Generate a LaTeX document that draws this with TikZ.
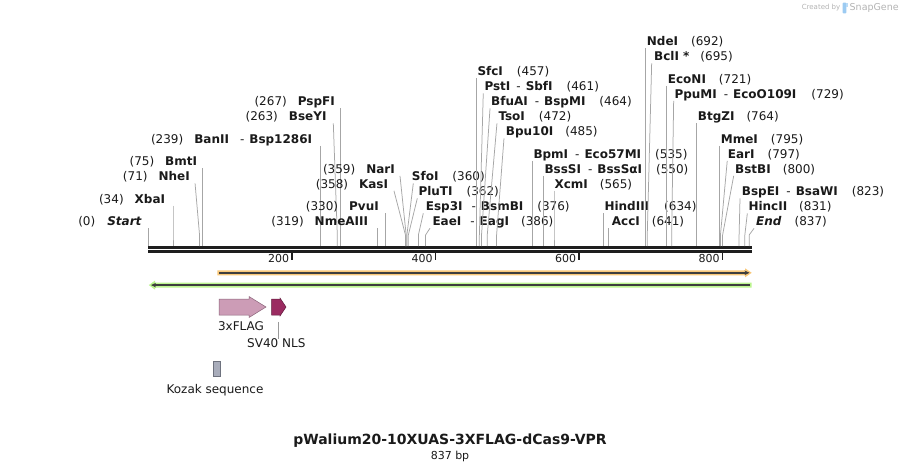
\documentclass[tikz,border=0pt]{standalone}
\usepackage{fontspec}
\setmainfont{DejaVu Sans}
\usetikzlibrary{arrows.meta}
\definecolor{txt}{HTML}{1A1A1A}
\definecolor{connc}{HTML}{A6A6A6}
\definecolor{bbone}{HTML}{1E1E1E}
\definecolor{orfor}{HTML}{F9C879}
\definecolor{orfgr}{HTML}{BCF58F}
\definecolor{orfline}{HTML}{3E3E3E}
\definecolor{flagf}{HTML}{CC9CB6}
\definecolor{flagd}{HTML}{8A6479}
\definecolor{nlsf}{HTML}{9B2B61}
\definecolor{nlsd}{HTML}{5E1A3B}
\definecolor{kozf}{HTML}{A9ADBB}
\definecolor{kozd}{HTML}{6E727E}
\definecolor{wmark}{HTML}{B4B4B4}
\definecolor{wblue}{HTML}{9CCBF2}
\tikzset{
  enz/.style={font=\fontsize{12}{13}\selectfont, inner sep=0pt, text=txt},
  conn/.style={draw=connc, line width=0.75pt},
  bbline/.style={draw=bbone, line width=2.6pt},
  tickline/.style={draw=bbone, line width=1.6pt},
  ticklab/.style={font=\fontsize{11}{13}\selectfont, inner sep=0pt, text=txt},
  featlab/.style={font=\fontsize{12}{14}\selectfont, inner sep=0pt, text=txt},
}
\newcommand\enzL[6]{%
  \node[enz, anchor=base east] (#1) at (#3, {225.7-7.5*#2}) {#6};
  \coordinate (#1t) at ({148.6+0.7175*#5+#4}, {228.3-7.5*#2});
  \coordinate (#1b) at ({148.6+0.7175*#5}, 235);
  \coordinate (#1s) at ({148.6+0.7175*#5}, 246);
  \draw[conn] (#1t) -- (#1b) -- (#1s);
}
\newcommand\enzR[6]{%
  \node[enz, anchor=base west] (#1) at (#3, {225.7-7.5*#2}) {#6};
  \coordinate (#1t) at ({148.6+0.7175*#5+#4}, {228.3-7.5*#2});
  \coordinate (#1b) at ({148.6+0.7175*#5}, 235);
  \coordinate (#1s) at ({148.6+0.7175*#5}, 246);
  \draw[conn] (#1t) -- (#1b) -- (#1s);
}
\begin{document}
\begin{tikzpicture}[x=1pt,y=-1pt]
\useasboundingbox (0,0) rectangle (900,472);
\fill[white] (0,0) rectangle (900,472);

% watermark
\node[inner sep=0pt, anchor=east, text=wmark, font=\fontsize{7}{8}\selectfont] (wm1) at (840.5,8) {Created by};
\fill[wblue, rounded corners=1pt] (842.6,2.6) rectangle (846.4,13.4);
\fill[wblue!70] (846.4,2.6) rectangle (848.2,7);
\node[inner sep=0pt, anchor=west, text=wmark, font=\fontsize{9.5}{11}\selectfont] (wm2) at (849.5,7.5) {SnapGene};

% backbone
\coordinate (bb1) at (148.3,247.3);
\coordinate (bb2) at (751.7,247.3);
\coordinate (bb3) at (148.3,251.4);
\coordinate (bb4) at (751.7,251.4);
\draw[bbline] (bb1) -- (bb2);
\draw[bbline] (bb3) -- (bb4);

% ticks
\foreach \v in {200,400,600,800}{
  \coordinate (tk\v a) at ({148.6+0.7175*\v},251.5);
  \coordinate (tk\v b) at ({148.6+0.7175*\v},259.5);
  \draw[tickline] (tk\v a) -- (tk\v b);
  \node[ticklab, anchor=east] (tl\v) at ({145.8+0.7175*\v},258.8) {\v};
}

% enzymes, left-hand labels
\enzL{st}{0}{142}{0}{0}{(0)\hspace{12pt}\textbf{\textit{Start}}}
\enzL{xba}{3}{165.3}{0}{34}{(34)\hspace{11pt}\textbf{XbaI}}
\enzL{nhe}{6}{190}{-4.5}{71}{(71)\hspace{11pt}\textbf{NheI}}
\enzL{bmt}{8}{197.3}{0}{75}{(75)\hspace{11pt}\textbf{BmtI}}
\enzL{ban}{11}{312.3}{0}{239}{(239)\hspace{11pt}\textbf{BanII}\hspace{11pt}-\hspace{5pt}\textbf{Bsp1286I}}
\enzL{bse}{14}{326.7}{-4}{263}{(263)\hspace{11pt}\textbf{BseYI}}
\enzL{psp}{16}{335}{0}{267}{(267)\hspace{11pt}\textbf{PspFI}}
\enzL{nme}{0}{368.3}{0}{319}{(319)\hspace{11pt}\textbf{NmeAIII}}
\enzL{pvu}{2}{379}{0}{330}{(330)\hspace{11pt}\textbf{PvuI}}
\enzL{kas}{5}{388.3}{-11.5}{358}{(358)\hspace{11pt}\textbf{KasI}}
\enzL{nar}{7}{395}{-6.2}{359}{(359)\hspace{11pt}\textbf{NarI}}

% enzymes, right-hand labels
\enzR{sfo}{6}{411.7}{6.4}{360}{\textbf{SfoI}\hspace{14pt}(360)}
\enzR{plu}{4}{418.3}{9}{362}{\textbf{PluTI}\hspace{14pt}(362)}
\enzR{esp}{2}{425.7}{4.9}{376}{\textbf{Esp3I}\hspace{9pt}-\hspace{5pt}\textbf{BsmBI}\hspace{14pt}(376)}
\enzR{eae}{0}{432.3}{4.4}{386}{\textbf{EaeI}\hspace{9pt}-\hspace{5pt}\textbf{EagI}\hspace{12pt}(386)}
\enzR{sfc}{20}{477.3}{0}{457}{\textbf{SfcI}\hspace{14pt}(457)}
\enzR{pst}{18}{484.3}{3.9}{461}{\textbf{PstI}\hspace{6pt}-\hspace{5pt}\textbf{SbfI}\hspace{14pt}(461)}
\enzR{bfu}{16}{491}{8.5}{464}{\textbf{BfuAI}\hspace{7pt}-\hspace{5pt}\textbf{BspMI}\hspace{14pt}(464)}
\enzR{tso}{14}{498.3}{9.7}{472}{\textbf{TsoI}\hspace{14pt}(472)}
\enzR{bpu}{12}{505.7}{7.4}{485}{\textbf{Bpu10I}\hspace{12pt}(485)}
\enzR{bpm}{9}{533.3}{0}{535}{\textbf{BpmI}\hspace{7pt}-\hspace{5pt}\textbf{Eco57MI}\hspace{14pt}(535)}
\enzR{bss}{7}{544.3}{0}{550}{\textbf{BssSI}\hspace{7pt}-\hspace{5pt}\textbf{BssSαI}\hspace{14pt}(550)}
\enzR{xcm}{5}{554.3}{0}{565}{\textbf{XcmI}\hspace{12pt}(565)}
\enzR{hin}{2}{604.3}{0}{634}{\textbf{HindIII}\hspace{15pt}(634)}
\enzR{acc}{0}{611.7}{0}{641}{\textbf{AccI}\hspace{12pt}(641)}
\enzR{nde}{24}{646.7}{0}{692}{\textbf{NdeI}\hspace{13pt}(692)}
\enzR{bcl}{22}{654}{4.4}{695}{\textbf{BclI *}\hspace{11pt}(695)}
\enzR{ecn}{19}{667.7}{0}{721}{\textbf{EcoNI}\hspace{13pt}(721)}
\enzR{ppu}{17}{674.3}{2}{729}{\textbf{PpuMI}\hspace{7pt}-\hspace{5pt}\textbf{EcoO109I}\hspace{15pt}(729)}
\enzR{btg}{14}{697.7}{0}{764}{\textbf{BtgZI}\hspace{12pt}(764)}
\enzR{mme}{11}{720.7}{0}{795}{\textbf{MmeI}\hspace{13pt}(795)}
\enzR{ear}{9}{727.7}{6.8}{797}{\textbf{EarI}\hspace{13pt}(797)}
\enzR{bst}{7}{735}{11.1}{800}{\textbf{BstBI}\hspace{12pt}(800)}
\enzR{bspe}{4}{741.7}{0.9}{823}{\textbf{BspEI}\hspace{7pt}-\hspace{5pt}\textbf{BsaWI}\hspace{14pt}(823)}
\enzR{hinc}{2}{748.3}{2.5}{831}{\textbf{HincII}\hspace{12pt}(831)}
\enzR{en}{0}{756}{4.9}{837}{\textbf{\textit{End}}\hspace{13pt}(837)}

% orange ORF (forward)
\fill[orfor] (217.3,270.3) -- (745,270.3) -- (745,268.3) -- (751.7,272.8) -- (745,277.3) -- (745,275.3) -- (217.3,275.3) -- cycle;
\coordinate (oa) at (219,272.8);
\coordinate (ob) at (749.5,272.8);
\draw[orfline, line width=1.5pt, -{Stealth[length=5pt,width=4.5pt]}] (oa) -- (ob);

% green ORF (reverse)
\fill[orfgr] (751.7,282.6) -- (155,282.6) -- (155,280.6) -- (148.8,285.1) -- (155,289.6) -- (155,287.6) -- (751.7,287.6) -- cycle;
\coordinate (ga) at (750,285.1);
\coordinate (gb) at (151,285.1);
\draw[orfline, line width=1.5pt, -{Stealth[length=5pt,width=4.5pt]}] (ga) -- (gb);

% 3xFLAG
\filldraw[fill=flagf, draw=flagd, line width=0.5pt] (219,299) -- (249,299) -- (249,296.5) -- (266,307) -- (249,317.5) -- (249,315) -- (219,315) -- cycle;
\node[featlab] (flaglab) at (241,326.5) {3xFLAG};

% SV40 NLS
\filldraw[fill=nlsf, draw=nlsd, line width=0.5pt] (271.5,299) -- (280,299) -- (280,298) -- (286,307) -- (280,316) -- (280,315) -- (271.5,315) -- cycle;
\coordinate (svb) at (278.6,321.8);
\node[featlab] (svlab) at (276.3,343.3) {SV40 NLS};
\draw[conn, draw=gray!80] (svb) -- (svb |- svlab.north);

% Kozak sequence
\filldraw[fill=kozf, draw=kozd, line width=0.5pt] (213.3,361.7) rectangle (220.7,376.7);
\node[featlab] (kozlab) at (215,390.5) {Kozak sequence};

% title
\node[inner sep=0pt, font=\fontsize{14}{16}\selectfont\bfseries, text=txt] (title) at (450,440.5) {pWalium20-10XUAS-3XFLAG-dCas9-VPR};
\node[inner sep=0pt, font=\fontsize{11}{13}\selectfont, text=txt] (bp) at (450,456) {837 bp};
\end{tikzpicture}
\end{document}
